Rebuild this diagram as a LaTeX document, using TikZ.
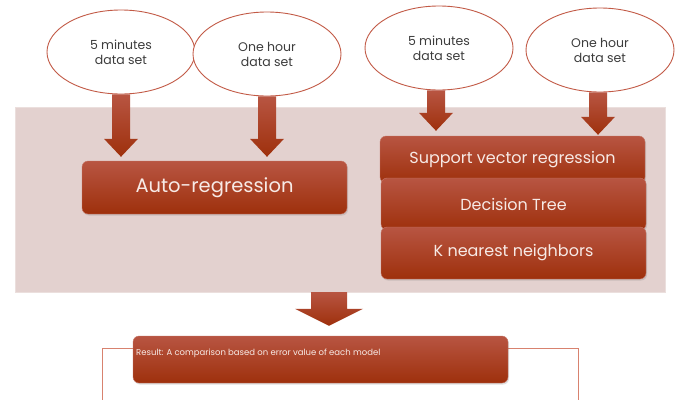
\documentclass[tikz,border=0pt]{standalone}
\usepackage{fontspec}
\setmainfont{Poppins}
\usetikzlibrary{shadows,calc,shapes.geometric}
\definecolor{boxtop}{HTML}{B85542}
\definecolor{boxbot}{HTML}{9E300C}
\definecolor{panel}{HTML}{E3D1CF}
\definecolor{rimred}{HTML}{C25A46}
\definecolor{outline}{HTML}{D8826F}
\definecolor{inktext}{HTML}{3C3C3C}
\definecolor{boxtext}{HTML}{F7EAE6}
\tikzset{
  dataset/.style={ellipse, draw=rimred, line width=0.9pt, fill=white,
    minimum width=148pt, minimum height=84pt, align=center, text=inktext,
    font=\fontsize{12.5}{15}\selectfont, inner sep=0pt},
  modelbox/.style={rectangle, rounded corners=6pt, top color=boxtop, bottom color=boxbot,
    draw=boxtop!80!white, line width=0.4pt, text=boxtext, inner sep=0pt,
    drop shadow={opacity=0.25, shadow xshift=1pt, shadow yshift=-1.5pt}},
  modelfont/.style={font=\fontsize{16}{18}\selectfont},
  panelbox/.style={rectangle, fill=panel, draw=panel!70!white, line width=0.6pt, inner sep=0pt},
  flowarrow/.style={top color=boxtop, bottom color=boxbot, draw=none},
}
% lowers a box label slightly below the box centre
\newcommand\lowered[2]{\raisebox{-#1pt}{#2}}
% block arrow: #1 start point, #2 tip point, #3 shaft half width, #4 head half width, #5 head length
\newcommand\blockarrow[5]{%
  \path[flowarrow] let \p1=(#1), \p2=(#2) in
    (\x1-#3,\y1) -- (\x1+#3,\y1) -- (\x1+#3,\y2+#5) -- (\x1+#4,\y2+#5)
    -- (\x1,\y2) -- (\x1-#4,\y2+#5) -- (\x1-#3,\y2+#5) -- cycle;}
\begin{document}
\begin{tikzpicture}[x=1pt,y=-1pt]
\useasboundingbox (0,0) rectangle (677,399);
\fill[white] (0,0) rectangle (677,399);

% shaded panel holding the models
\node[panelbox, minimum width=650pt, minimum height=185pt] (panel) at (340,199.5) {};

% input data sets
\node[dataset] (e1) at (121,52) {5 minutes\\data set};
\node[dataset] (e2) at (267,54) {One hour\\data set};
\node[dataset] (e3) at (439,48) {5 minutes\\data set};
\node[dataset] (e4) at (600,50) {One hour\\data set};

% models
\node[modelbox, minimum width=265pt, minimum height=53pt, font=\fontsize{19.5}{22}\selectfont] (ar) at (214.5,187.5) {\lowered{2}{Auto-regression}};
\node[modelbox, modelfont, minimum width=265pt, minimum height=47pt] (svr) at (512.5,159.5) {\lowered{3}{Support vector regression}};
\node[modelbox, modelfont, minimum width=265pt, minimum height=52pt] (dt) at (513.5,204) {\lowered{1}{Decision Tree}};
\node[modelbox, modelfont, minimum width=265pt, minimum height=52pt] (knn) at (513.5,253) {\lowered{2}{K nearest neighbors}};

% arrows from data sets to models
\coordinate (t1) at ($(e1.south |- ar.north)+(0,-4)$);
\coordinate (t2) at ($(e2.south |- ar.north)+(0,-4)$);
\coordinate (t3) at ($(e3.south |- svr.north)+(-3,-5)$);
\coordinate (t4) at ($(e4.south |- svr.north)+(-2,-1)$);
\coordinate (s3) at ($(e3.south)+(-3,0)$);
\coordinate (s4) at ($(e4.south)+(-2,0)$);
\blockarrow{e1.south}{t1}{9}{17}{18}
\blockarrow{e2.south}{t2}{9}{17}{18}
\blockarrow{s3}{t3}{9}{17}{18}
\blockarrow{s4}{t4}{9}{17}{18}

% result
\draw[outline, line width=0.6pt] (102,402) -- (102,348) -- (578,348) -- (578,402);
\node[modelbox, minimum width=375pt, minimum height=47pt] (res) at (320.5,359.5) {};
\node[anchor=west, text=boxtext, font=\fontsize{8.5}{10}\selectfont, inner sep=0pt] (restext) at (136,353) {Result: A comparison based on error value of each model};
\coordinate (pb) at (329,292);
\coordinate (rt) at ($(pb |- res.north)+(0,-10)$);
\blockarrow{pb}{rt}{18}{34}{17}
\end{tikzpicture}
\end{document}
